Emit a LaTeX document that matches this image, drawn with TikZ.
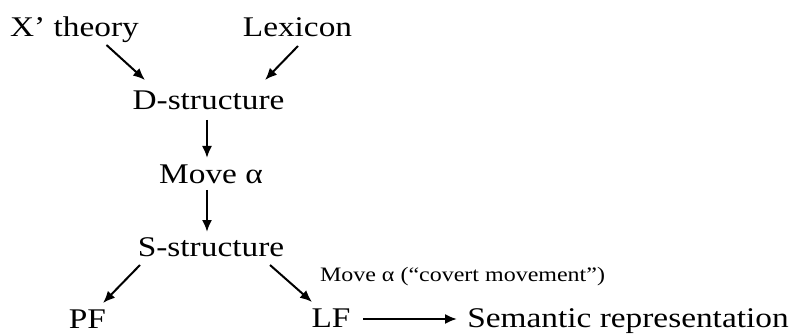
\documentclass[tikz,border=0pt]{standalone}
\usepackage{fontspec}
\setmainfont{Liberation Serif}[FakeStretch=1.17]
\usetikzlibrary{arrows.meta}
\begin{document}
\begin{tikzpicture}[x=1pt,y=-1pt,
  lbl/.style={inner sep=0pt,anchor=base,font=\fontsize{28.5}{30}\selectfont},
  small/.style={inner sep=0pt,anchor=base,font=\fontsize{20.5}{22}\selectfont},
  arr/.style={line width=2pt,-{Latex[length=12pt,width=10pt]}}]
\useasboundingbox (0,0) rectangle (793,334);
% levels of representation
\node[lbl] (xbar) at (74.5,37) {X' theory};
\node[lbl] (lex)  at (297.5,37) {Lexicon};
\node[lbl] (dstr) at (208.5,110) {D-structure};
\node[lbl] (move) at (211,183) {Move α};
\node[lbl] (sstr) at (211,256) {S-structure};
\node[lbl] (pf)   at (87.5,328) {PF};
\node[lbl] (lf)   at (331,327) {LF};
\node[lbl] (sem)  at (628,327) {Semantic representation};
\node[small] (cov) at (462.5,281) {Move α (“covert movement”)};
% derivation arrows
\draw[arr] ([shift={(32,8)}]xbar.base) -- ([shift={(-63.5,-30)}]dstr.base);
\draw[arr] ([shift={(0.5,9)}]lex.base) -- ([shift={(56.5,-30)}]dstr.base);
\draw[arr] ([shift={(-1.5,10)}]dstr.base) -- ([shift={(-4,-25)}]move.base);
\draw[arr] ([shift={(-4,7)}]move.base) -- ([shift={(-4,-24)}]sstr.base);
\draw[arr] ([shift={(-71,9)}]sstr.base) -- ([shift={(15.5,-25)}]pf.base);
\draw[arr] ([shift={(59,9)}]sstr.base) -- ([shift={(-19,-25)}]lf.base);
\draw[arr] ([shift={(32,-8)}]lf.base) -- ([shift={(-171,-8)}]sem.base);
\end{tikzpicture}
\end{document}
